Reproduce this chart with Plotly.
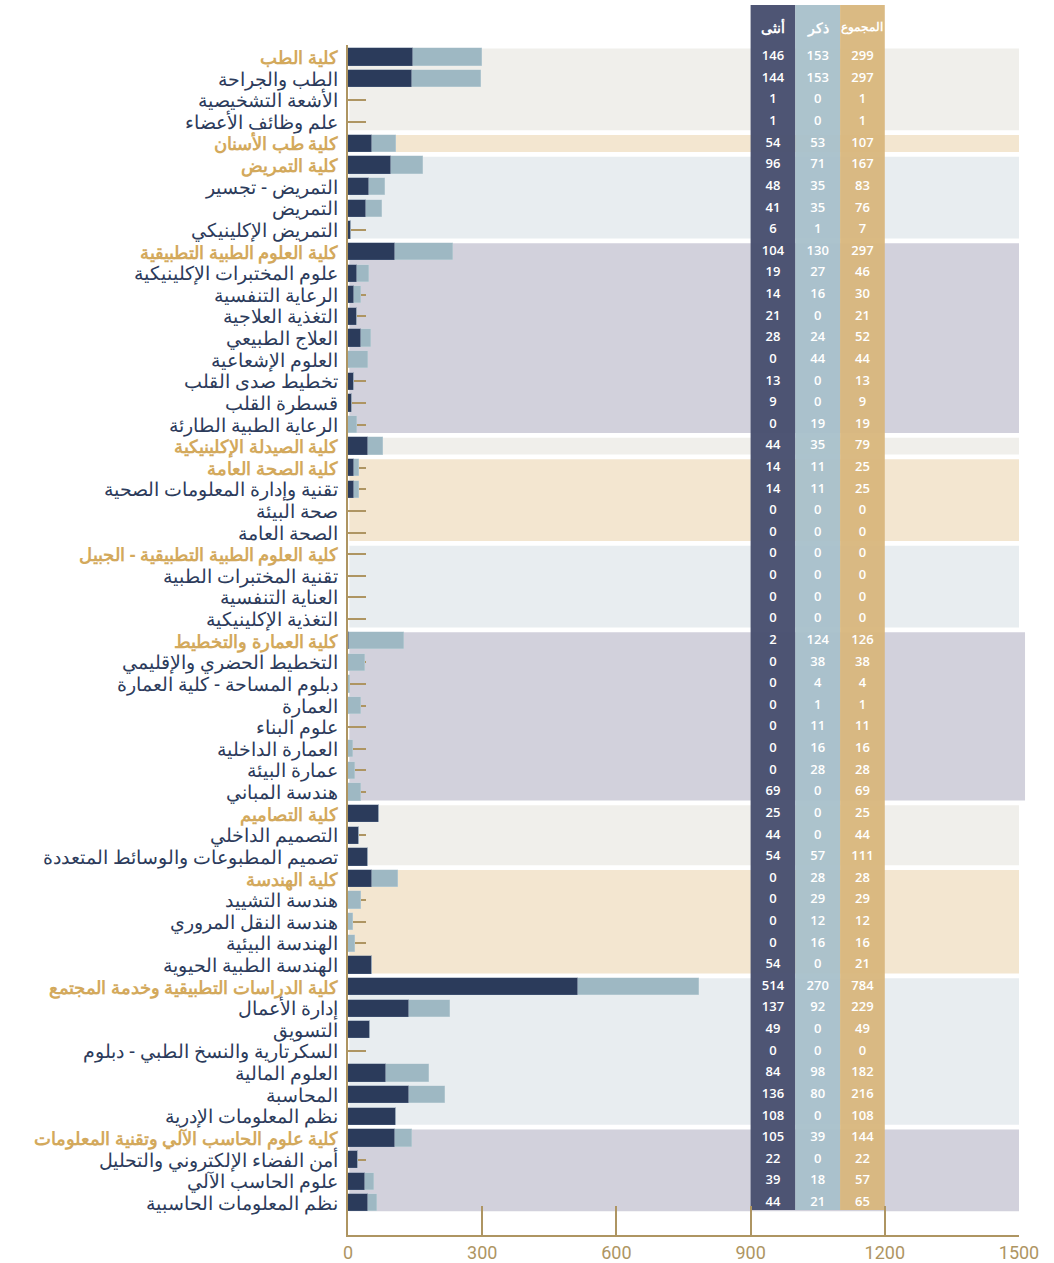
import plotly.graph_objects as go

# ---------------- data ----------------
labels = [
    "كلية الطب", "الطب والجراحة", "الأشعة التشخيصية", "علم وظائف الأعضاء",
    "كلية طب الأسنان",
    "كلية التمريض", "التمريض - تجسير", "التمريض", "التمريض الإكلينيكي",
    "كلية العلوم الطبية التطبيقية", "علوم المختبرات الإكلينيكية", "الرعاية التنفسية",
    "التغذية العلاجية", "العلاج الطبيعي", "العلوم الإشعاعية", "تخطيط صدى القلب",
    "قسطرة القلب", "الرعاية الطبية الطارئة",
    "كلية الصيدلة الإكلينيكية",
    "كلية الصحة العامة", "تقنية وإدارة المعلومات الصحية", "صحة البيئة", "الصحة العامة",
    "كلية العلوم الطبية التطبيقية - الجبيل", "تقنية المختبرات الطبية", "العناية التنفسية",
    "التغذية الإكلينيكية",
    "كلية العمارة والتخطيط", "التخطيط الحضري والإقليمي", "دبلوم المساحة - كلية العمارة",
    "العمارة", "علوم البناء", "العمارة الداخلية", "عمارة البيئة", "هندسة المباني",
    "كلية التصاميم", "التصميم الداخلي", "تصميم المطبوعات والوسائط المتعددة",
    "كلية الهندسة", "هندسة التشييد", "هندسة النقل المروري", "الهندسة البيئية",
    "الهندسة الطبية الحيوية",
    "كلية الدراسات التطبيقية وخدمة المجتمع", "إدارة الأعمال", "التسويق",
    "السكرتارية والنسخ الطبي - دبلوم", "العلوم المالية", "المحاسبة", "نظم المعلومات الإدرية",
    "كلية علوم الحاسب الآلي وتقنية المعلومات", "أمن الفضاء الإلكتروني والتحليل",
    "علوم الحاسب الآلي", "نظم المعلومات الحاسبية",
]

# table values (as printed)
female = [146, 144, 1, 1, 54, 96, 48, 41, 6, 104, 19, 14, 21, 28, 0, 13, 9, 0, 44,
          14, 14, 0, 0, 0, 0, 0, 0, 2, 0, 0, 0, 0, 0, 0, 69, 25, 44, 54, 0, 0, 0, 0, 54,
          514, 137, 49, 0, 84, 136, 108, 105, 22, 39, 44]
male = [153, 153, 0, 0, 53, 71, 35, 35, 1, 130, 27, 16, 0, 24, 44, 0, 0, 19, 35,
        11, 11, 0, 0, 0, 0, 0, 0, 124, 38, 4, 1, 11, 16, 28, 0, 0, 0, 57, 28, 29, 12, 16, 0,
        270, 92, 0, 0, 98, 80, 0, 39, 0, 18, 21]
total = [299, 297, 1, 1, 107, 167, 83, 76, 7, 297, 46, 30, 21, 52, 44, 13, 9, 19, 79,
         25, 25, 0, 0, 0, 0, 0, 0, 126, 38, 4, 1, 11, 16, 28, 69, 25, 44, 111, 28, 29, 12, 16, 21,
         784, 229, 49, 0, 182, 216, 108, 144, 22, 57, 65]

# bar lengths (as drawn)
bar_female = [146, 144, 1, 1, 54, 96, 48, 41, 6, 104, 19, 14, 21, 28, 0, 13, 9, 0, 44,
              14, 14, 0, 0, 0, 0, 0, 0, 2, 0, 0, 0, 0, 0, 0, 0, 69, 25, 44, 54, 0, 0, 0, 54,
              514, 137, 49, 0, 84, 136, 108, 105, 22, 39, 44]
bar_male = [153, 153, 0, 0, 53, 71, 35, 35, 1, 130, 27, 16, 0, 24, 44, 0, 0, 19, 35,
            11, 11, 0, 0, 0, 0, 0, 0, 124, 38, 4, 28, 1, 11, 16, 28, 0, 0, 0, 57, 28, 12, 16, 0,
            270, 92, 0, 0, 98, 80, 0, 39, 0, 18, 21]

col_headers = ["أنثى", "ذكر", "المجموع"]
x_ticks = [0, 300, 600, 900, 1200, 1500]

# ---------------- styling ----------------
DARK = "#2b3b5b"
LIGHT = "#9eb8c3"
GOLD = "#ae9562"
LABEL_GOLD = "#d3a95c"
LABEL_NAVY = "#2c3b5b"
band_palette = ["#f0efeb", "#f3e6d0", "#e8edf0", "#d2d1dc"]
col_palette = ["rgba(72,80,112,0.97)", "rgba(168,192,202,0.95)", "rgba(216,182,124,0.95)"]

n = len(labels)
rows = list(range(n))
is_college = [lab.startswith("كلية") for lab in labels]

y_top, y_bot = -0.555, 54.49

fig = go.Figure()

fig.add_trace(go.Bar(y=rows, x=bar_female, orientation="h", marker_color=DARK, width=0.8,
                     marker_line=dict(width=0.6, color="rgba(90,110,140,0.6)"),
                     hoverinfo="skip", showlegend=False))
fig.add_trace(go.Bar(y=rows, x=bar_male, orientation="h", marker_color=LIGHT, width=0.8,
                     marker_line=dict(width=0.6, color="rgba(200,215,222,0.7)"),
                     hoverinfo="skip", showlegend=False))

# table values
for ci, vals in enumerate([female, male, total]):
    fig.add_trace(go.Scatter(
        x=[900 + 100 * ci + 50] * n, y=rows, mode="text",
        text=[str(v) for v in vals],
        textfont=dict(color="white", size=13, family="Open Sans", weight=600),
        hoverinfo="skip", showlegend=False, cliponaxis=False))

shapes = []
# college bands
starts = [i for i in rows if is_college[i]]
for k, s in enumerate(starts):
    e = (starts[k + 1] - 1) if k + 1 < len(starts) else n - 1
    x1 = 1.009 if labels[s] == "كلية العمارة والتخطيط" else 1.0
    shapes.append(dict(type="rect", xref="paper", yref="y", x0=0.002, x1=x1,
                       y0=s - 0.39, y1=e + 0.39, fillcolor=band_palette[k % 4],
                       line=dict(width=0), layer="below"))

# table columns
span = y_bot - y_top
col_bottom = (y_bot - (n - 1 + 0.33)) / span
col_top = 1 + 40 / 1190
for ci in range(3):
    shapes.append(dict(type="rect", xref="x", yref="paper", x0=900 + 100 * ci,
                       x1=1000 + 100 * ci, y0=col_bottom, y1=col_top,
                       fillcolor=col_palette[ci], line=dict(width=0), layer="below"))

annotations = []
for ci, h in enumerate(col_headers):
    annotations.append(dict(x=950 + 100 * ci, y=1 + 18 / 1190, xref="x", yref="paper",
                            yanchor="middle", text=h, showarrow=False,
                            font=dict(color="white", size=14 if ci < 2 else 11.5,
                                      family="Noto Sans", weight="bold")))

for i, lab in enumerate(labels):
    annotations.append(dict(x=0, y=i, xref="paper", yref="y", xanchor="right",
                            yanchor="middle", xshift=-8, text=lab, showarrow=False,
                            font=dict(size=18 if is_college[i] else 19, family="Noto Sans",
                                      color=LABEL_GOLD if is_college[i] else LABEL_NAVY,
                                      weight="bold" if is_college[i] else "normal")))

fig.update_layout(
    width=1054, height=1263,
    margin=dict(l=348, r=35, t=45, b=28, autoexpand=False),
    paper_bgcolor="white", plot_bgcolor="rgba(0,0,0,0)",
    barmode="stack", bargap=0,
    shapes=shapes, annotations=annotations,
    xaxis=dict(range=[0, 1500], tickvals=x_ticks, ticktext=[str(t) for t in x_ticks],
               ticks="inside", ticklen=29, tickwidth=2, tickcolor=GOLD,
               showline=True, linewidth=2, linecolor=GOLD, showgrid=False, zeroline=False,
               tickfont=dict(size=18, color=GOLD, family="Liberation Sans Narrow, Roboto"),
               fixedrange=True, layer="below traces", automargin=False),
    yaxis=dict(range=[y_bot, y_top], tickvals=rows, showticklabels=False,
               ticks="inside", ticklen=18, tickwidth=2, tickcolor=GOLD,
               showline=True, linewidth=2, linecolor=GOLD, showgrid=False, zeroline=False,
               fixedrange=True, layer="below traces", automargin=False),
)

fig.write_html("out.html", config={"displayModeBar": False},
               post_script="document.body.style.margin='0';document.body.style.overflow='hidden';")
